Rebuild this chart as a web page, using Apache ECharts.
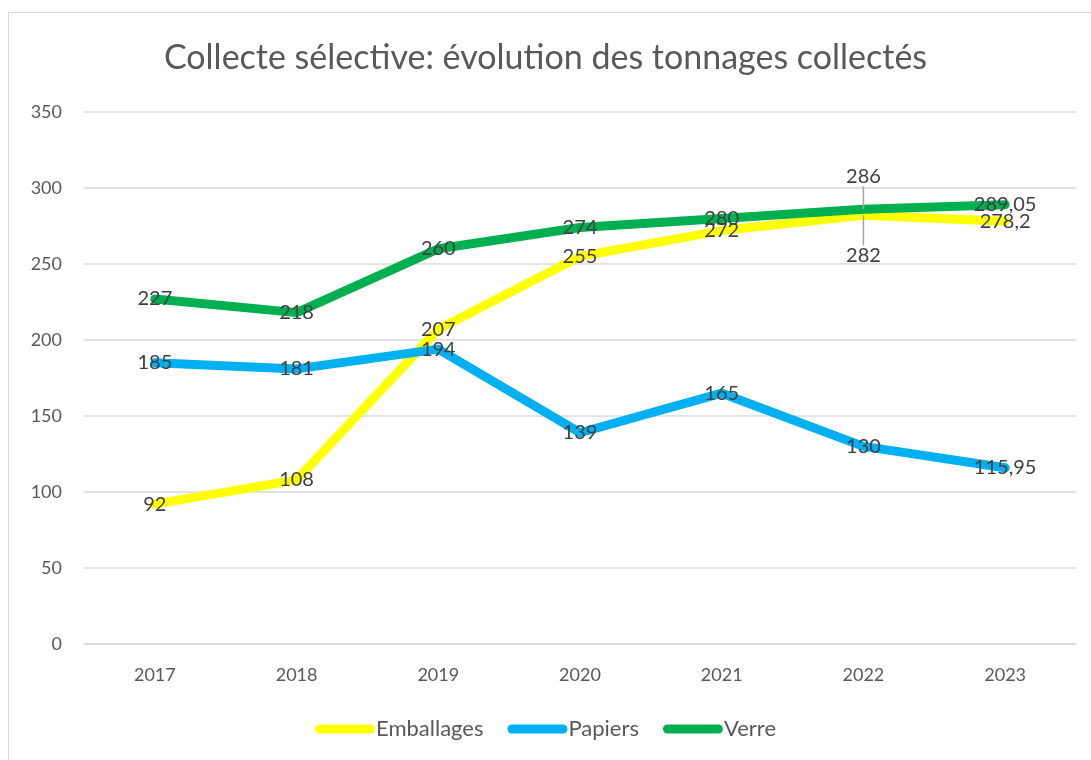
<!DOCTYPE html>
<html><head><meta charset="utf-8">
<script src="https://cdn.jsdelivr.net/npm/echarts@6/dist/echarts.min.js"></script>
<style>
html,body{margin:0;padding:0;background:#fff;}
#frame{position:absolute;left:8px;top:12px;width:1100px;height:760px;border:1px solid #d9d9d9;box-sizing:border-box;}
#c{position:absolute;left:0;top:0;width:1091px;height:760px;}
</style></head>
<body>
<div id="frame"></div>
<div id="c"></div>
<script>
const title = 'Collecte sélective: évolution des tonnages collectés';
const categories = ['2017','2018','2019','2020','2021','2022','2023'];
const emballages = [92, 108, 207, 255, 272, 282, 278.2];
const papiers = [185, 181, 194, 139, 165, 130, 115.95];
const verre = [227, 218, 260, 274, 280, 286, 289.05];
const yTicks = [0, 50, 100, 150, 200, 250, 300, 350];

const fmt = p => String(p.value).replace('.', ',');
const font = 'Lato, "Open Sans", sans-serif';
function mk(name, values, color, shiftIdx, dy) {
  const data = values.map((v, i) => i === shiftIdx
    ? { value: v, labelLine: { show: true, lineStyle: { color: '#a6a6a6', width: 1.5 } } }
    : { value: v });
  return {
    name, type: 'line', data,
    symbol: 'circle', symbolSize: 0.01, showSymbol: true,
    itemStyle: { color },
    lineStyle: { color, width: 9, cap: 'round', join: 'round' },
    label: { show: true, position: 'inside', formatter: fmt, color: '#404040', fontSize: 20, fontFamily: font },
    labelLine: { show: false },
    labelLayout: p => p.dataIndex === shiftIdx ? { dy: dy } : {},
    emphasis: { disabled: true },
    z: 2
  };
}
const chart = echarts.init(document.getElementById('c'), null, { renderer: 'canvas' });
chart.setOption({
  animation: false,
  title: { text: title, left: 'center', top: 36, textStyle: { color: '#595959', fontSize: 34, fontWeight: 'normal', fontFamily: font } },
  legend: {
    bottom: 15, left: 'center', itemWidth: 60, itemHeight: 9, itemGap: 24,
    icon: 'path://M4.5,0 H55.5 A4.5,4.5 0 0 1 55.5,9 H4.5 A4.5,4.5 0 0 1 4.5,0 Z',
    itemStyle: { opacity: 1 },
    textStyle: { color: '#595959', fontSize: 22, fontFamily: font, padding: [0,0,0,-4] },
    data: ['Emballages', 'Papiers', 'Verre']
  },
  grid: { left: 84, right: 15, top: 112, bottom: 116 },
  xAxis: {
    type: 'category', data: categories, boundaryGap: true,
    axisLine: { lineStyle: { color: '#d9d9d9', width: 1.5 } }, axisTick: { show: false },
    axisLabel: { color: '#595959', fontSize: 18, fontFamily: font, margin: 22 }
  },
  yAxis: {
    type: 'value', min: yTicks[0], max: yTicks[yTicks.length - 1], interval: 50,
    axisLine: { show: false }, axisTick: { show: false },
    splitLine: { lineStyle: { color: '#d9d9d9', width: 1.5 } },
    axisLabel: { color: '#595959', fontSize: 18, fontFamily: font, margin: 22 }
  },
  series: [
    mk('Emballages', emballages, '#FFFF00', 5, 40),
    mk('Papiers', papiers, '#00B0F0', -1, 0),
    mk('Verre', verre, '#00B050', 5, -33)
  ]
});
</script>
</body></html>
